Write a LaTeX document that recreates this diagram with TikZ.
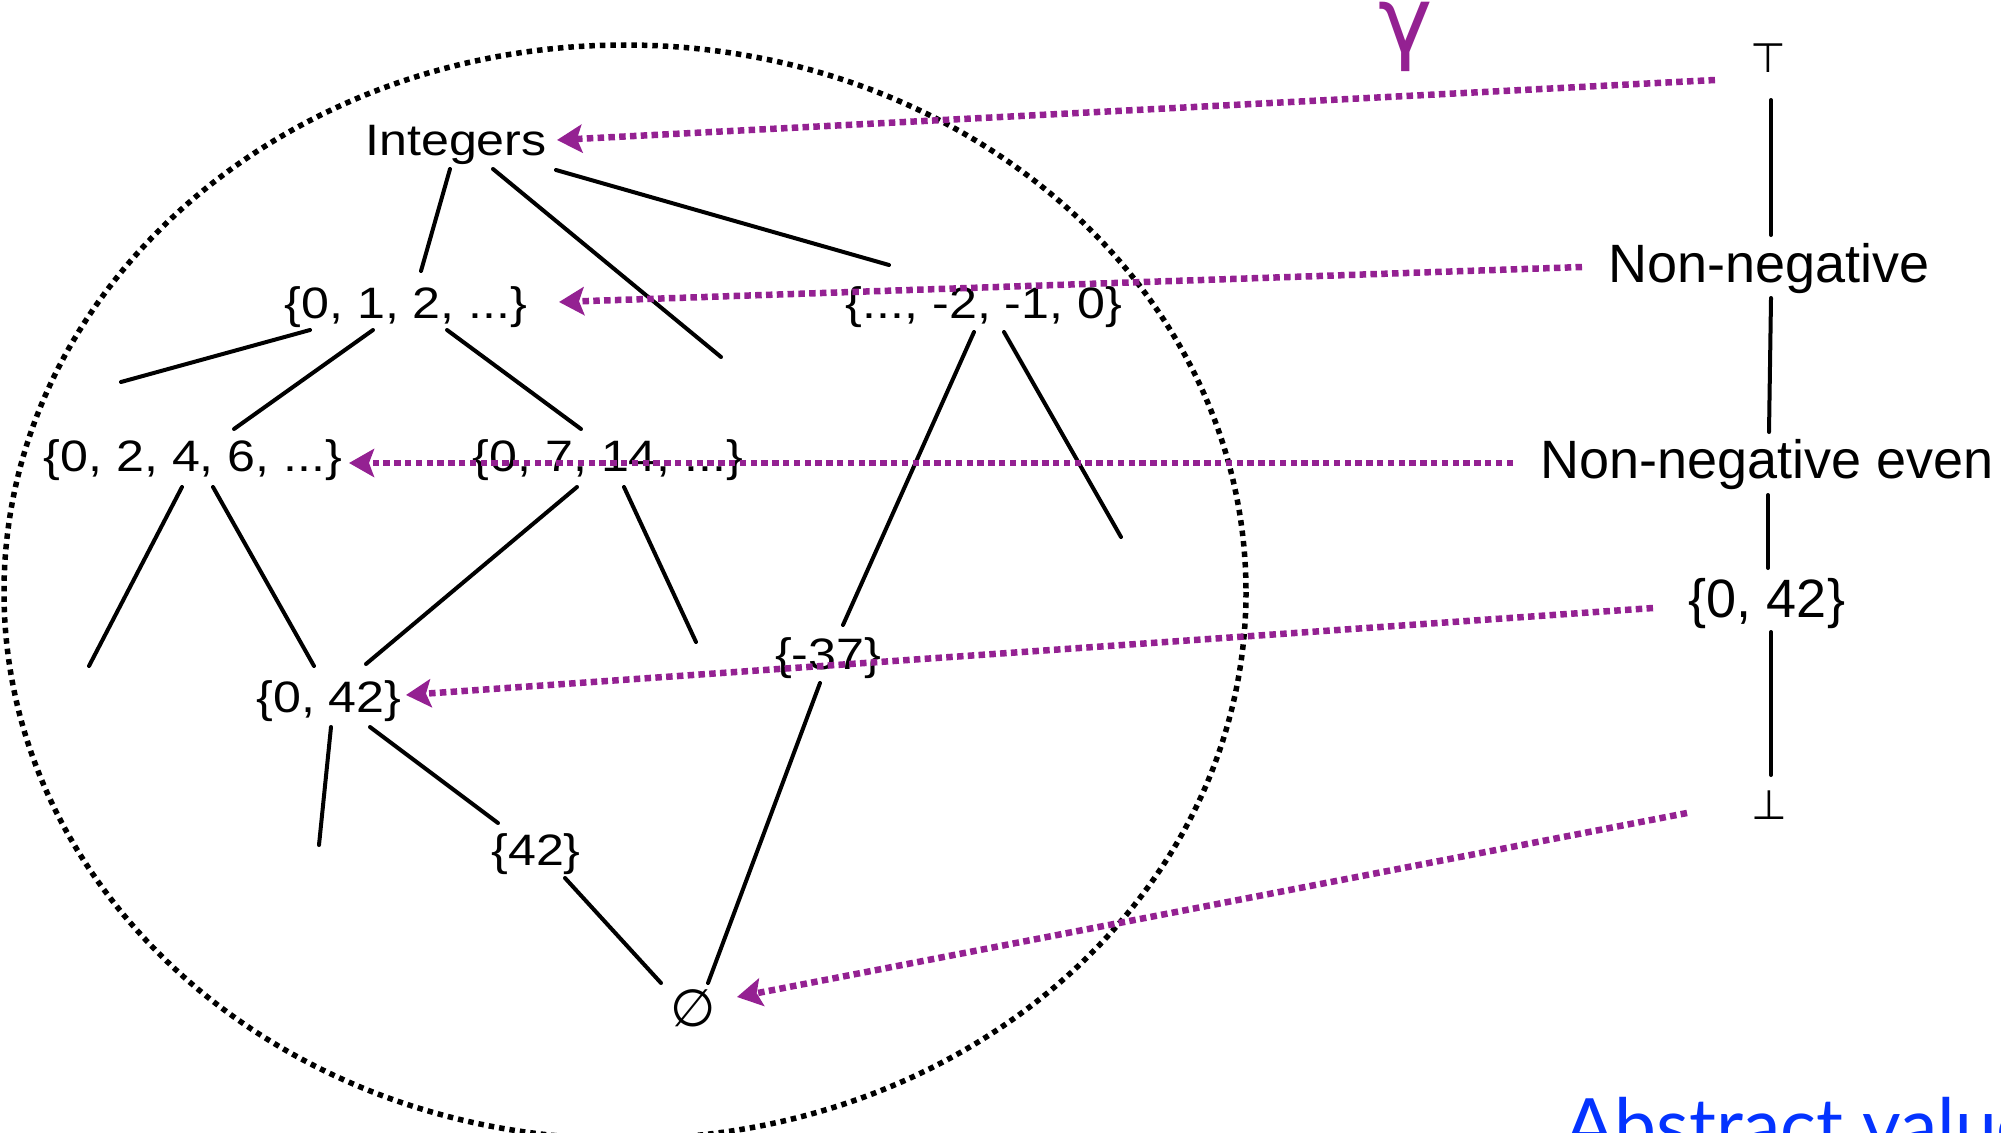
\documentclass[tikz,border=0pt]{standalone}
\usepackage{fontspec}
\usetikzlibrary{arrows.meta,calc}
\newfontfamily\latfont[FakeStretch=1.14]{Liberation Sans}
\newfontfamily\rightfont{Liberation Sans}
\newfontfamily\symfont{DejaVu Sans}
\newfontfamily\abfont{Lato}
\definecolor{gpurple}{RGB}{148,33,146}
\definecolor{ablue}{RGB}{4,51,255}
\begin{document}
\begin{tikzpicture}[x=1pt,y=-1pt,
  lat/.style={inner sep=0pt, anchor=base, font=\latfont\fontsize{44}{50}\selectfont},
  rlab/.style={inner sep=0pt, anchor=base, font=\rightfont\fontsize{54}{60}\selectfont},
  symb/.style={inner sep=0pt, anchor=base, font=\symfont\fontsize{41}{48}\selectfont},
  latedge/.style={line width=4pt, line cap=round},
  chainline/.style={line width=4pt, line cap=round},
  gmap/.style={draw=gpurple, line width=6.5pt, dash pattern=on 6.5pt off 4.3pt,
    -{Stealth[length=25pt,width=28pt,inset=5pt,fill=gpurple]}},
  cdomain/.style={line width=5.5pt, dash pattern=on 5.5pt off 5pt}]
\useasboundingbox (0,0) rectangle (2001,1132);
\clip (0,0) rectangle (2001,1132);

% concrete domain boundary
\draw[cdomain] (625,592) ellipse [x radius=621, y radius=547];

% lattice of sets
\node[lat] (int)   at (456,155) {Integers};
\node[lat] (n012)  at (406,318) {\{0, 1, 2, ...\}};
\node[lat] (nneg)  at (984,318) {\{..., -2, -1, 0\}};
\node[lat] (n0246) at (193,471) {\{0, 2, 4, 6, ...\}};
\node[lat] (n0714) at (608,471) {\{0, 7, 14, ...\}};
\node[lat] (n042)  at (329,712) {\{0, 42\}};
\node[lat] (nm37)  at (828,669) {\{-37\}};
\node[lat] (n42)   at (536,865) {\{42\}};
\node[inner sep=0pt, anchor=center, font=\symfont\fontsize{52}{58}\selectfont] (nempty) at (693,1008) {∅};

\coordinate (d1) at (721,357);
\coordinate (d2) at (121,382);
\coordinate (d3) at (1121,537);
\coordinate (d4) at (89,666);
\coordinate (d5) at (696,642);
\coordinate (d6) at (319,845);

\draw[latedge] ($(int.base)+(-6,14)$) -- ($(n012.base)+(15,-47)$);
\draw[latedge] ($(int.base)+(37,14)$) -- (d1);
\draw[latedge] ($(int.base)+(100,15)$) -- ($(nneg.base)+(-95,-53)$);
\draw[latedge] ($(n012.base)+(-96,12)$) -- (d2);
\draw[latedge] ($(n012.base)+(-33,12)$) -- ($(n0246.base)+(41,-42)$);
\draw[latedge] ($(n012.base)+(41,12)$) -- ($(n0714.base)+(-27,-42)$);
\draw[latedge] ($(nneg.base)+(-10,14)$) -- ($(nm37.base)+(15,-44)$);
\draw[latedge] ($(nneg.base)+(20,14)$) -- (d3);
\draw[latedge] ($(n0246.base)+(-11,16)$) -- (d4);
\draw[latedge] ($(n0246.base)+(20,16)$) -- ($(n042.base)+(-15,-46)$);
\draw[latedge] ($(n0714.base)+(-31,16)$) -- ($(n042.base)+(37,-48)$);
\draw[latedge] ($(n0714.base)+(16,16)$) -- (d5);
\draw[latedge] ($(n042.base)+(2,15)$) -- (d6);
\draw[latedge] ($(n042.base)+(41,15)$) -- ($(n42.base)+(-38,-42)$);
\draw[latedge] ($(n42.base)+(29,13)$) -- ($(nempty.center)+(-32,-25)$);
\draw[latedge] ($(nm37.base)+(-8,14)$) -- ($(nempty.center)+(15,-25)$);

% abstract chain
\node[symb] (top) at (1768,72) {⊤};
\node[rlab] (nn)  at (1769,282) {Non-negative};
\node[rlab] (nne) at (1767,478) {Non-negative even};
\node[rlab] (r042) at (1767,617) {\{0, 42\}};
\node[symb] (bot) at (1769,819) {⊥};

\draw[chainline] ($(top.base)+(3,28)$) -- ($(nn.base)+(2,-47)$);
\draw[chainline] ($(nn.base)+(2,16)$) -- ($(nne.base)+(2,-46)$);
\draw[chainline] ($(nne.base)+(1,17)$) -- ($(r042.base)+(1,-49)$);
\draw[chainline] ($(r042.base)+(4,15)$) -- ($(bot.base)+(2,-44)$);

% concretization arrows
\draw[gmap] ($(top.base)+(-53,8)$) -- ($(int.base)+(101,-15)$);
\draw[gmap] ($(nn.base)+(-187,-15)$) -- ($(n012.base)+(153,-16)$);
\draw[gmap] ($(nne.base)+(-254,-15)$) -- ($(n0246.base)+(156,-8)$);
\draw[gmap] ($(r042.base)+(-114,-9)$) -- ($(n042.base)+(77,-17)$);
\draw[gmap] ($(bot.base)+(-82,-6)$) -- ($(nempty.center)+(44,-11)$);

\node[inner sep=0pt, anchor=center, text=gpurple, font=\symfont\fontsize{92}{100}\selectfont] (gamma) at (1406,37) {γ};
\node[inner sep=0pt, anchor=base west, text=ablue, font=\abfont\fontsize{75}{80}\selectfont] (absval) at (1564,1152) {Abstract value};
\end{tikzpicture}
\end{document}
